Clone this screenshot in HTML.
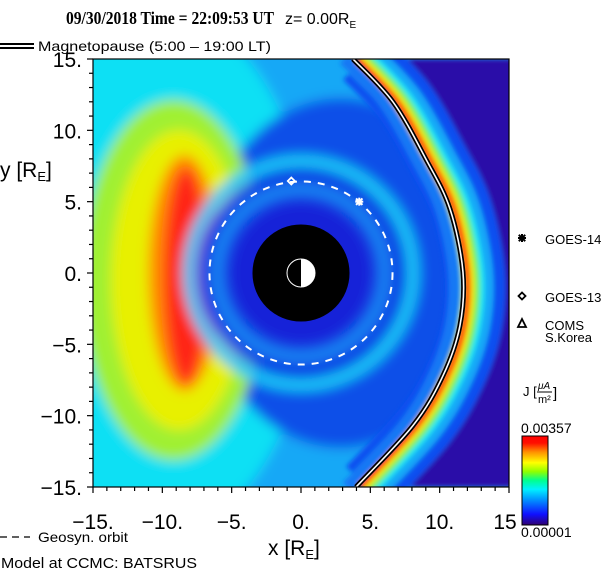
<!DOCTYPE html>
<html><head><meta charset="utf-8">
<style>
html,body{margin:0;padding:0;background:#fff;width:616px;height:574px;overflow:hidden}
svg{display:block}
text{font-family:"Liberation Sans",sans-serif;fill:#000}
</style></head>
<body>
<svg id="chart" width="616" height="574" viewBox="0 0 616 574" xmlns="http://www.w3.org/2000/svg">
<defs>
  <clipPath id="plotClip"><rect x="93" y="59" width="416" height="428"/></clipPath>
  <filter id="blur" x="-20%" y="-20%" width="140%" height="140%"><feGaussianBlur stdDeviation="6"/></filter>
  <filter id="blurS" x="-20%" y="-20%" width="140%" height="140%"><feGaussianBlur stdDeviation="2.5"/></filter>
  <linearGradient id="cbGrad" x1="0" y1="1" x2="0" y2="0">
    <stop offset="0" stop-color="#300070"/>
    <stop offset="0.12" stop-color="#1010ff"/>
    <stop offset="0.28" stop-color="#0090ff"/>
    <stop offset="0.4" stop-color="#00f0ff"/>
    <stop offset="0.5" stop-color="#00ff90"/>
    <stop offset="0.6" stop-color="#90ff00"/>
    <stop offset="0.7" stop-color="#ffff00"/>
    <stop offset="0.82" stop-color="#ff9000"/>
    <stop offset="0.92" stop-color="#ff1000"/>
    <stop offset="1" stop-color="#ff0000"/>
  </linearGradient>
</defs>

<text x="66" y="24" textLength="208" lengthAdjust="spacingAndGlyphs" style="font-family:'Liberation Serif',serif;font-weight:bold;font-size:18px">09/30/2018 Time = 22:09:53 UT</text>
<text x="285" y="24" style="font-size:16px">z= 0.00R<tspan font-size="10" dy="4">E</tspan></text>

<g>
  <line x1="0" y1="44" x2="34" y2="44" stroke="#000" stroke-width="2"/>
  <line x1="0" y1="48" x2="34" y2="48" stroke="#000" stroke-width="2"/>
  <text x="38" y="51" font-size="14" textLength="233" lengthAdjust="spacingAndGlyphs">Magnetopause (5:00 – 19:00 LT)</text>
</g>

<g id="plot" clip-path="url(#plotClip)">
  <g id="field" filter="url(#blur)"></g>
  <g id="sheath" filter="url(#blurS)"></g>
  <g id="overlay"></g>
</g>
<rect x="93" y="59" width="416" height="428" fill="none" stroke="#000" stroke-width="1.2"/>
<g id="axes"></g>

<text x="268" y="555" font-size="21">x [R<tspan font-size="13" dy="4">E</tspan><tspan dy="-4">]</tspan></text>
<text x="0" y="177" font-size="21">y [R<tspan font-size="13" dy="4">E</tspan><tspan dy="-4">]</tspan></text>

<g>
  <line x1="0" y1="537" x2="30" y2="537" stroke="#000" stroke-width="1.2" stroke-dasharray="7,5"/>
  <text x="38" y="542" font-size="14" textLength="90" lengthAdjust="spacingAndGlyphs">Geosyn. orbit</text>
</g>
<text x="1" y="568" font-size="15" textLength="196" lengthAdjust="spacingAndGlyphs">Model at CCMC: BATSRUS</text>

<g id="satLegend"></g>

<g>
  <text x="523" y="396" font-size="13">J [</text>
  <text x="538" y="389" font-size="10" font-style="italic">μA</text>
  <line x1="537" y1="392" x2="552" y2="392" stroke="#000" stroke-width="1"/>
  <text x="538" y="403" font-size="11">m²</text>
  <text x="553" y="398" font-size="15">]</text>
  <text x="521" y="433" font-size="14">0.00357</text>
  <rect x="522" y="436" width="26" height="89" fill="url(#cbGrad)" stroke="#000" stroke-width="1"/>
  <text x="521" y="537" font-size="14">0.00001</text>
</g>
</svg>

<script>
// ---- data ----
const xTicks = [-15,-10,-5,0,5,10,15];
const xTickLabels = ["−15.","−10.","−5.","0.","5.","10.","15"];
const yTicks = [15,10,5,0,-5,-10,-15];
const yTickLabels = ["15.","10.","5.","0.","−5.","−10.","−15."];
const mpX = [3.75,6.63,9.0,10.74,11.68,11.46,10.24,8.07,3.97];
const mpY = [15.0,12.0,8.0,4.5,0.07,-3.7,-7.2,-10.7,-15.0];
const geoRadius = [6.6];
const satNames = ["GOES-14","GOES-13"];
const satX = [4.2,-0.7];
const satY = [5.0,6.45];
const innerBoundary = [3.5];

// ---- scales ----
const X0=93,X1=509,Y0=59,Y1=487;
const sx = v => X0 + (v+15)/30*(X1-X0);
const sy = v => Y1 - (v+15)/30*(Y1-Y0);
const pxPerUnitX = (X1-X0)/30;
const NS="http://www.w3.org/2000/svg";
function mk(tag, attrs, parent){const e=document.createElementNS(NS,tag);for(const k in attrs)e.setAttribute(k,attrs[k]);parent.appendChild(e);return e;}

const field=document.getElementById('field');
const sheath=document.getElementById('sheath');
const overlay=document.getElementById('overlay');
const axes=document.getElementById('axes');

// smooth magnetopause (Catmull-Rom -> cubic Bezier)
const P = mpX.map((v,i)=>[sx(v),sy(mpY[i])]);
let mpD = "M"+P[0][0]+","+P[0][1];
for(let i=0;i+1<P.length;i++){
  const p0=P[Math.max(i-1,0)], p1=P[i], p2=P[i+1], p3=P[Math.min(i+2,P.length-1)];
  const c1=[p1[0]+(p2[0]-p0[0])/6, p1[1]+(p2[1]-p0[1])/6];
  const c2=[p2[0]-(p3[0]-p1[0])/6, p2[1]-(p3[1]-p1[1])/6];
  mpD += " C"+c1[0]+","+c1[1]+" "+c2[0]+","+c2[1]+" "+p2[0]+","+p2[1];
}
const cx=sx(0), cy=sy(0);

function tag(e,name){
  
  
}

let bg=mk('rect',{x:60,y:30,width:500,height:500,fill:'#18a8f6'},field);


let cyanL=mk('ellipse',{cx:sx(-10),cy:cy,rx:150,ry:260,fill:'#10e0f4'},field);


let blueR=mk('ellipse',{cx:cx+40,cy:cy,rx:140,ry:175,fill:'#1050e8'},field);


let g1=mk('ellipse',{cx:sx(-9.2),cy:sy(-0.5),rx:92,ry:180,fill:'#a0f030'},field);


let y1e=mk('ellipse',{cx:sx(-8.8),cy:sy(-0.5),rx:68,ry:150,fill:'#e8f000'},field);


let o1=mk('ellipse',{cx:sx(-8.4),cy:sy(0),rx:36,ry:118,fill:'#ff8a00'},field);


let r1=mk('ellipse',{cx:sx(-8.3),cy:sy(-0.2),rx:22,ry:108,fill:'#ff2818'},field);


let ringC2=mk('circle',{cx:cx,cy:cy,r:112,fill:'none',stroke:'#18c8f8','stroke-width':12},field);


let cutC=mk('circle',{cx:cx,cy:cy,r:104,fill:'#1040e4'},field);


let ringL2=mk('circle',{cx:cx,cy:cy,r:84,fill:'none',stroke:'#1a90f6','stroke-width':9},field);


let dark2=mk('circle',{cx:cx,cy:cy,r:70,fill:'#1420d8'},field);



// magnetosheath (sharper)
let outD = mpD + " L560,"+sy(-15)+" L560,"+sy(15)+" Z";
let outer=mk('path',{d:outD,fill:'#2a0aa8'},sheath);


const band=[['#1050f0',60,12],['#18a8f8',40,10],['#20e8f0',26,8],['#80f050',18,7],['#f0e800',12,5],['#ff3010',6,4]];
band.forEach(b=>{
  let p=mk('path',{d:mpD,fill:'none',stroke:b[0],'stroke-width':b[1],transform:'translate('+b[2]+',0)','stroke-linejoin':'round'},sheath);
  
  
});
let inner=mk('path',{d:mpD,fill:'none',stroke:'#1878f4','stroke-width':12,transform:'translate(-9,0)'},sheath);



let disk=mk('circle',{cx:cx,cy:cy,r:innerBoundary[0]*pxPerUnitX,fill:'#000'},overlay);


let earth=mk('circle',{cx:cx,cy:cy,r:14,fill:'#000',stroke:'#fff','stroke-width':1},overlay);


let day=mk('path',{d:"M"+cx+","+(cy-14)+" A14,14 0 0 1 "+cx+","+(cy+14)+" Z",fill:'#fff'},overlay);


let orbit=mk('circle',{cx:cx,cy:cy,r:geoRadius[0]*pxPerUnitX,fill:'none',stroke:'#fff','stroke-width':2,'stroke-dasharray':'7,7'},overlay);


let mpB=mk('path',{d:mpD,fill:'none',stroke:'#000','stroke-width':5},overlay);


let mpW=mk('path',{d:mpD,fill:'none',stroke:'#fff','stroke-width':1.6},overlay);



function star(parent,x,y,s,color){
  const g=mk('g',{stroke:color,'stroke-width':2},parent);
  mk('line',{x1:x-s,y1:y,x2:x+s,y2:y},g);
  mk('line',{x1:x,y1:y-s,x2:x,y2:y+s},g);
  mk('line',{x1:x-s*0.8,y1:y-s*0.8,x2:x+s*0.8,y2:y+s*0.8},g);
  mk('line',{x1:x-s*0.8,y1:y+s*0.8,x2:x+s*0.8,y2:y-s*0.8},g);
  return g;
}
function diamond(parent,x,y,s,color){
  return mk('path',{d:"M"+x+","+(y-s)+" L"+(x+s)+","+y+" L"+x+","+(y+s)+" L"+(x-s)+","+y+" Z",fill:'none',stroke:color,'stroke-width':1.8},parent);
}
let s14=star(overlay,sx(satX[0]),sy(satY[0]),4,'#fff');


let s13=diamond(overlay,sx(satX[1]),sy(satY[1]),3.5,'#fff');



const sl=document.getElementById('satLegend');
let l14=star(sl,522,238,4,'#000');


let t14=mk('text',{x:545,y:244,'font-size':13},sl); t14.textContent=satNames[0];


let l13=diamond(sl,522,296,3.5,'#000');


let t13=mk('text',{x:545,y:302,'font-size':13},sl); t13.textContent=satNames[1];


let tri=mk('path',{d:'M522,319 L526,327 L518,327 Z',fill:'none',stroke:'#000','stroke-width':1.8},sl);


let tc=mk('text',{x:545,y:330,'font-size':13},sl); tc.textContent='COMS';


let tc2=mk('text',{x:545,y:342,'font-size':13},sl); tc2.textContent='S.Korea';



for(let v=-15; v<=15; v++){
  const major = v%5===0;
  const len = major?6:4;
  let tx=mk('line',{x1:sx(v),y1:Y1,x2:sx(v),y2:Y1+len,stroke:'#000','stroke-width':1.2},axes);
  
  
  let ty=mk('line',{x1:X0-len,y1:sy(v),x2:X0,y2:sy(v),stroke:'#000','stroke-width':1.2},axes);
  
  
}
xTicks.forEach((v,i)=>{
  let t=mk('text',{x:sx(v)+(i===xTicks.length-1?-4:0),y:529,'font-size':21,'text-anchor':'middle'},axes);
  t.textContent=xTickLabels[i];
  
  
});
yTicks.forEach((v,i)=>{
  let t=mk('text',{x:82,y:sy(v)+8,'font-size':21,'text-anchor':'end'},axes);
  t.textContent=yTickLabels[i];
  
  
});
</script>
</body></html>
